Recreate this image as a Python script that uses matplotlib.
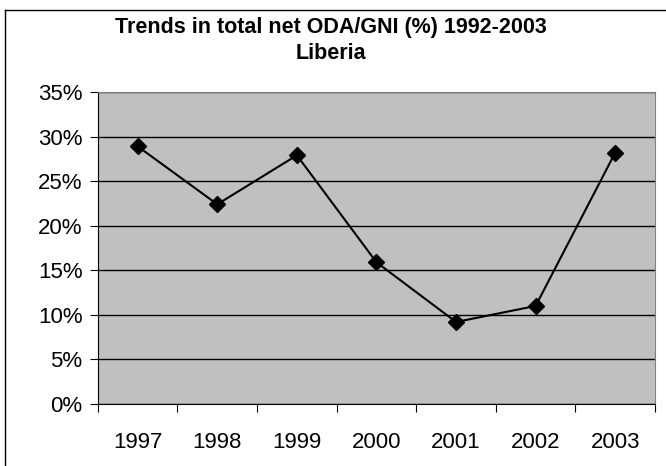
import matplotlib
matplotlib.use("Agg")
import matplotlib.pyplot as plt
from matplotlib.lines import Line2D
import numpy as np

years = ["1997", "1998", "1999", "2000", "2001", "2002", "2003"]
oda_gni = [28.9, 22.4, 27.9, 15.9, 9.2, 11.0, 28.2]
yticks = [0, 5, 10, 15, 20, 25, 30, 35]

plt.rcParams["font.family"] = ["Liberation Sans", "DejaVu Sans"]

fig = plt.figure(figsize=(6.66, 4.66), dpi=100)
ax = fig.add_axes([0.147, 0.133, 0.8365, 0.6696])
ax.set_facecolor("#C0C0C0")

ind = np.arange(len(years))
ax.plot(ind, oda_gni, color="black", lw=1.5, marker="D", ms=8.5,
        markerfacecolor="black", markeredgecolor="black", zorder=5)

ax.set_xlim(-0.5, len(years) - 0.5)
ax.set_ylim(0, 35)
ax.set_yticks(yticks)
ax.set_yticklabels(["{}%".format(v) for v in yticks])
ax.set_xticks(np.arange(-0.5, len(years), 1.0))
ax.set_xticklabels([])
ax.set_xticks(ind, minor=True)
ax.set_xticklabels(years, minor=True)
ax.tick_params(axis="x", which="minor", length=0, pad=20, labelsize=16)
ax.tick_params(axis="x", which="major", length=6, direction="out", color="black")
ax.tick_params(axis="y", length=6, direction="out", labelsize=16, pad=5)
ax.grid(True, axis="y", color="black", lw=1)
ax.set_axisbelow(True)

ax.spines["left"].set_color("black")
ax.spines["bottom"].set_color("black")
ax.spines["top"].set_color("#808080")
ax.spines["right"].set_color("#808080")

fig.text(0.497, 0.94, "Trends in total net ODA/GNI (%) 1992-2003",
         ha="center", va="center", fontsize=15.5, fontweight="bold")
fig.text(0.497, 0.886, "Liberia", ha="center", va="center",
         fontsize=15.5, fontweight="bold")

# outer chart border (only left/top visible in the reference)
fig.add_artist(Line2D([0.0075, 0.0075], [0, 0.9785], color="black", lw=1))
fig.add_artist(Line2D([0.0075, 1], [0.9785, 0.9785], color="black", lw=1))

fig.savefig("out.png", dpi=100)
